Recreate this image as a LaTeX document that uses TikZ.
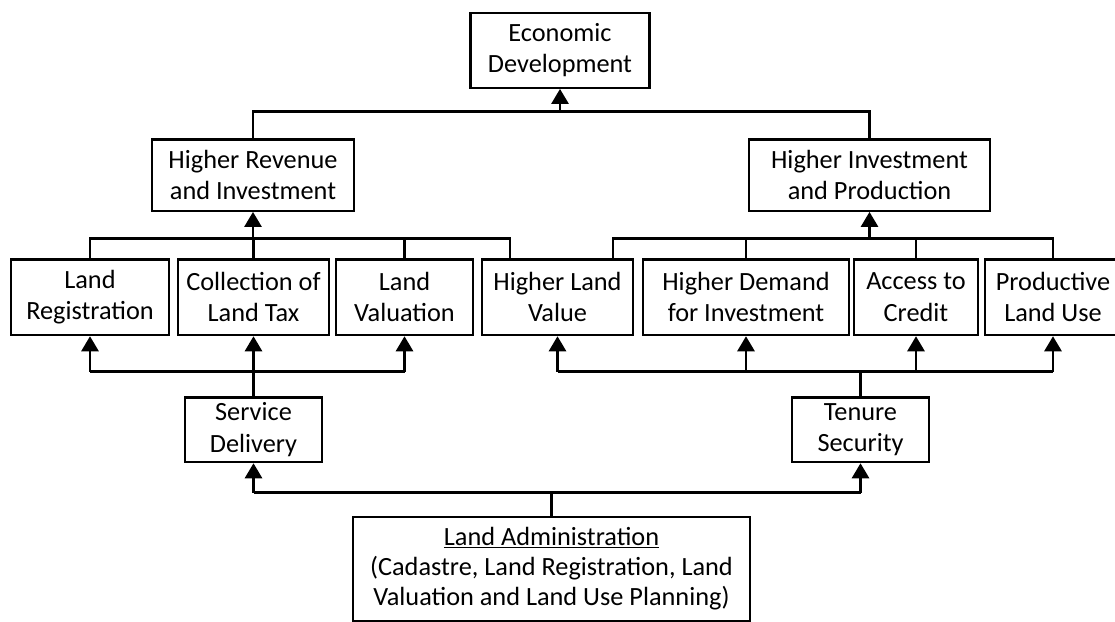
\documentclass[tikz,border=0pt]{standalone}
\usepackage{fontspec}
\setmainfont{Carlito}
\usetikzlibrary{arrows.meta}

\tikzset{
  box/.style={draw, line width=2.4pt, rectangle, inner sep=0pt, align=center,
    font=\fontsize{26.3}{31.5}\selectfont},
  link/.style={line width=2.7pt, line join=miter},
  uparrow/.style={link, -{Triangle[width=17pt,length=15pt]}}
}

\begin{document}
\begin{tikzpicture}[x=1pt,y=-1pt]
\useasboundingbox (0,0) rectangle (1115,621);
\clip (0,0) rectangle (1115,621);

% boxes
\node[box, minimum width=179pt, minimum height=75pt]   (ED)  at (560,50.2)   {Economic\\Development};
\node[box, minimum width=202pt, minimum height=71.4pt] (HRI) at (253,175)    {Higher Revenue\\and Investment};
\node[box, minimum width=241pt, minimum height=71.4pt] (HIP) at (869.5,175)  {Higher Investment\\and Production};

\node[box, minimum width=158pt, minimum height=75.7pt] (LR)  at (90,297.2)    {Land\\Registration};
\node[box, minimum width=151pt, minimum height=75.7pt] (CLT) at (253.5,297.2) {Collection of\\Land Tax};
\node[box, minimum width=137pt, minimum height=75.7pt] (LV)  at (404.5,297.2) {Land\\Valuation};
\node[box, minimum width=151pt, minimum height=75.7pt] (HLV) at (557.5,297.2) {Higher Land\\Value};
\node[box, minimum width=206pt, minimum height=75.7pt] (HDI) at (746,297.2)   {Higher Demand\\for Investment};
\node[box, minimum width=124pt, minimum height=75.7pt] (AC)  at (916,297.2)   {Access to\\Credit};
\node[box, minimum width=136pt, minimum height=75.7pt] (PLU) at (1053,297.2)  {Productive\\Land Use};

\node[box, minimum width=137pt, minimum height=64.7pt] (SD)  at (253.5,429.7) {Service\\Delivery};
\node[box, minimum width=137pt, minimum height=64.7pt] (TS)  at (860.5,429.7) {Tenure\\Security};

\node[box, minimum width=397pt, minimum height=104.3pt,
      font=\fontsize{26.3}{30}\selectfont] (LA) at (551.5,568.9)
  {\underline{Land Administration}\\(Cadastre, Land Registration, Land\\Valuation and Land Use Planning)};

% bus levels
\coordinate (busTop) at (0,111.7);
\coordinate (busMid) at (0,238.7);
\coordinate (busLow) at (0,371.7);
\coordinate (busBot) at (0,492.7);

% attachment points on the Higher Land Value box
\coordinate (hlvL) at ([xshift=-47.5pt]HLV.north);
\coordinate (hlvR) at ([xshift=55.5pt]HLV.north);

% top level
\draw[link] (HRI.north) -- (HRI.north |- busTop) -- (HIP.north |- busTop) -- (HIP.north);
\draw[uparrow] (ED.south |- busTop) -- (ED.south);

% inputs to Higher Revenue and Investment
\draw[link] (LR.north) -- (LR.north |- busMid) -- (hlvL |- busMid) -- (hlvL);
\draw[link] (CLT.north) -- (CLT.north |- busMid);
\draw[link] (LV.north) -- (LV.north |- busMid);
\draw[uparrow] (HRI.south |- busMid) -- (HRI.south);

% inputs to Higher Investment and Production
\draw[link] (hlvR) -- (hlvR |- busMid) -- (PLU.north |- busMid) -- (PLU.north);
\draw[link] (HDI.north) -- (HDI.north |- busMid);
\draw[link] (AC.north) -- (AC.north |- busMid);
\draw[uparrow] (HIP.south |- busMid) -- (HIP.south);

% outputs of Service Delivery
\draw[link] (SD.north) -- (SD.north |- busLow);
\draw[link] (LR.south |- busLow) -- (LV.south |- busLow);
\draw[uparrow] (LR.south |- busLow) -- (LR.south);
\draw[uparrow] (CLT.south |- busLow) -- (CLT.south);
\draw[uparrow] (LV.south |- busLow) -- (LV.south);

% outputs of Tenure Security
\draw[link] (TS.north) -- (TS.north |- busLow);
\draw[link] (HLV.south |- busLow) -- (PLU.south |- busLow);
\draw[uparrow] (HLV.south |- busLow) -- (HLV.south);
\draw[uparrow] (HDI.south |- busLow) -- (HDI.south);
\draw[uparrow] (AC.south |- busLow) -- (AC.south);
\draw[uparrow] (PLU.south |- busLow) -- (PLU.south);

% outputs of Land Administration
\draw[link] (LA.north) -- (LA.north |- busBot);
\draw[link] (SD.south |- busBot) -- (TS.south |- busBot);
\draw[uparrow] (SD.south |- busBot) -- (SD.south);
\draw[uparrow] (TS.south |- busBot) -- (TS.south);
\end{tikzpicture}
\end{document}
